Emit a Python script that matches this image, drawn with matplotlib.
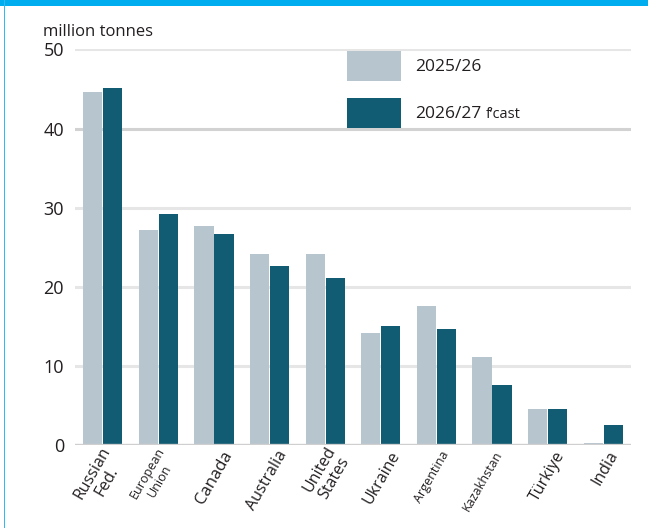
import matplotlib
matplotlib.use("Agg")
import matplotlib.pyplot as plt
import matplotlib.patches as mpatches
import matplotlib.transforms as mtransforms
import numpy as np

# ---- data ----
countries = ["Russian\nFed.", "European\nUnion", "Canada", "Australia", "United\nStates",
             "Ukraine", "Argentina", "Kazakhstan", "Türkiye", "India"]
val_2025 = [44.6, 27.2, 27.7, 24.2, 24.2, 14.2, 17.6, 11.1, 4.6, 0.3]
val_2026 = [45.1, 29.2, 26.7, 22.7, 21.1, 15.1, 14.7, 7.6, 4.6, 2.6]
series_labels = ["2025/26", "2026/27"]
yticks = [0, 10, 20, 30, 40, 50]

# ---- style ----
label_sizes = [11.5, 9, 12, 11.5, 11.5, 11.5, 9, 9, 11.5, 11.5]
label_dx_pt = [8, 7, 11, 10, 10, 11, 7, 5, 10, 8]

LIGHT = "#b7c5ce"
DARK = "#115b73"
TXT = "#231f20"

plt.rcParams['font.family'] = ['Open Sans', 'DejaVu Sans']

fig = plt.figure(figsize=(6.48, 5.28), dpi=100)
fig.patch.set_facecolor("white")

# frame decorations: top blue bar and left thin line
fig.add_artist(mpatches.Rectangle((0, 1 - 6/528), 1, 6/528, transform=fig.transFigure,
                                  color="#00aeef", lw=0, zorder=10))
fig.add_artist(mpatches.Rectangle((3.5/648, 0), 1.5/648, 1, transform=fig.transFigure,
                                  color="#33b8ef", lw=0, zorder=10))

ax = fig.add_axes([75/648, 82.7/528, 556/648, 396/528])
x = np.arange(len(countries))
w = 0.345
ax.bar(x - 0.18, val_2025, width=w, color=LIGHT, zorder=3, label=series_labels[0])
ax.bar(x + 0.18, val_2026, width=w, color=DARK, zorder=3, label=series_labels[1])

ax.set_xlim(-0.5, 9.5)
ax.set_ylim(0, 50)
for s in ax.spines.values():
    s.set_visible(False)

for t in yticks:
    if t == 0:
        ax.axhline(t, color="#cfcfcf", lw=2.4, zorder=4)
    elif t == 40:
        ax.axhline(t, color="#d2d2d2", lw=2.2, zorder=1)
    else:
        ax.axhline(t, color="#e6e6e6", lw=2.2, zorder=1)

ax.set_yticks(yticks)
ax.set_yticklabels([str(t) for t in yticks], fontsize=13, color=TXT)
ax.tick_params(axis='y', length=0, pad=8)

ax.set_xticks(x)
ax.set_xticklabels(countries)
ax.tick_params(axis='x', length=0, pad=4)
for lab, fs, dx in zip(ax.get_xticklabels(), label_sizes, label_dx_pt):
    lab.set_fontsize(fs)
    lab.set_rotation(60)
    lab.set_ha('right')
    lab.set_va('center')
    lab.set_rotation_mode('anchor')
    lab.set_multialignment('center')
    lab.set_color(TXT)
    lab.set_linespacing(1.1)
    off = mtransforms.ScaledTranslation(dx/72, -1/72, fig.dpi_scale_trans)
    lab.set_transform(lab.get_transform() + off)

fig.text(43/648, 1 - 32/528, "million tonnes", fontsize=12, color=TXT, va='center', ha='left')

leg = ax.legend(loc='upper left', bbox_to_anchor=((347-75)/556, 1 - 1.7/396),
                frameon=False, borderpad=0, borderaxespad=0,
                handlelength=3.1, handleheight=2.28, labelspacing=0.98,
                handletextpad=0.8, fontsize=12.5)
for t in leg.get_texts():
    t.set_color(TXT)

fig.canvas.draw()
bb = leg.get_texts()[1].get_window_extent()
inv = fig.transFigure.inverted()
(x1, y0), (x2, y1) = inv.transform([(bb.x0, bb.y0), (bb.x1, bb.y1)])
fig.text(x2 + 5/648, (y0 + y1)/2, "f’cast", fontsize=10.5, color=TXT, va='center', ha='left')

fig.savefig("out.png", dpi=100, facecolor="white")
